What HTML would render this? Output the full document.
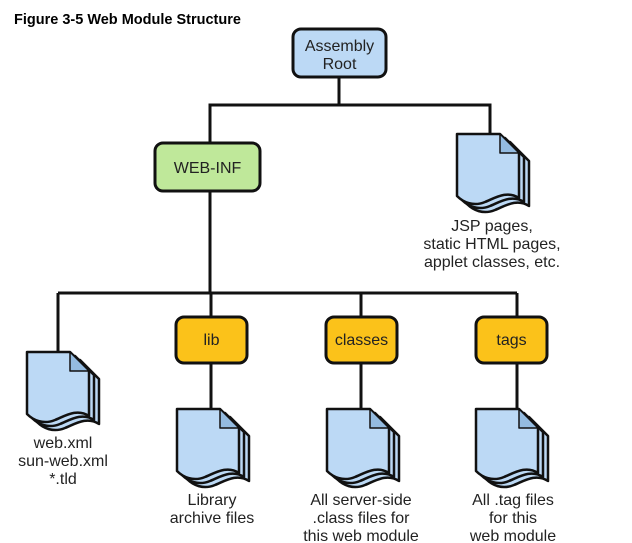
<!DOCTYPE html>
<html><head><meta charset="utf-8"><style>
html,body{margin:0;padding:0;background:#fff;width:632px;height:543px;overflow:hidden}
svg text{font-family:"Liberation Sans",Arial,sans-serif;fill:#222}
</style></head><body>
<svg width="632" height="543" viewBox="0 0 632 543" xmlns="http://www.w3.org/2000/svg">
<defs>
<g id="doc" stroke="#111" stroke-width="2.5" stroke-linejoin="round">
  <path d="M10,8 L53,8 L72,27 L72,72 C60,64 48,72 38,76 C26,81 16,76 10,70 Z" fill="#bcd9f5"/>
  <path d="M5,4 L48,4 L67,23 L67,68 C55,60 43,68 33,72 C21,77 11,72 5,66 Z" fill="#bcd9f5"/>
  <path d="M0,0 L43,0 L62,19 L62,64 C50,56 38,64 28,68 C16,73 6,68 0,62 Z" fill="#bcd9f5"/>
  <path d="M43,0 L43,19 L62,19 Z" fill="#94bbe0" stroke-width="1.5"/>
</g>
</defs>
<text x="14" y="24" font-size="14.5" font-weight="bold" style="fill:#000">Figure 3-5 Web Module Structure</text>
<g stroke="#111" stroke-width="3" fill="none">
  <path d="M339,77 V105 M210,143 V105 H490 V134"/>
  <path d="M210,191 V293 M58,293 H517 M58,293 V352 M211,293 V317 M361,293 V317 M517,293 V317"/>
  <path d="M211,363 V409 M361,363 V409 M517,363 V409"/>
</g>
<rect x="293" y="29" width="93" height="48" rx="8" fill="#bcd9f5" stroke="#111" stroke-width="3"/>
<text x="339.5" y="51" font-size="16" text-anchor="middle">Assembly</text>
<text x="339.5" y="69" font-size="16" text-anchor="middle">Root</text>
<rect x="155" y="143" width="105" height="48" rx="8" fill="#bfe89a" stroke="#111" stroke-width="3"/>
<text x="207.5" y="173" font-size="16" text-anchor="middle">WEB-INF</text>
<rect x="176" y="317" width="71" height="46" rx="8" fill="#fbc21a" stroke="#111" stroke-width="3"/>
<text x="211.5" y="345" font-size="16" text-anchor="middle">lib</text>
<rect x="326" y="317" width="71" height="46" rx="8" fill="#fbc21a" stroke="#111" stroke-width="3"/>
<text x="361.5" y="345" font-size="16" text-anchor="middle">classes</text>
<rect x="476" y="317" width="71" height="46" rx="8" fill="#fbc21a" stroke="#111" stroke-width="3"/>
<text x="511.5" y="345" font-size="16" text-anchor="middle">tags</text>
<use href="#doc" x="457" y="134"/>
<use href="#doc" x="27" y="352"/>
<use href="#doc" x="177" y="409"/>
<use href="#doc" x="327" y="409"/>
<use href="#doc" x="476" y="409"/>
<g font-size="16" text-anchor="middle">
<text x="492" y="231">JSP pages,</text>
<text x="492" y="249">static HTML pages,</text>
<text x="492" y="267">applet classes, etc.</text>
<text x="63" y="448">web.xml</text>
<text x="63" y="466">sun-web.xml</text>
<text x="63" y="484">*.tld</text>
<text x="212" y="505">Library</text>
<text x="212" y="523">archive files</text>
<text x="361" y="505">All server-side</text>
<text x="361" y="523">.class files for</text>
<text x="361" y="541">this web module</text>
<text x="513" y="505">All .tag files</text>
<text x="513" y="523">for this</text>
<text x="513" y="541">web module</text>
</g>
</svg>
</body></html>
